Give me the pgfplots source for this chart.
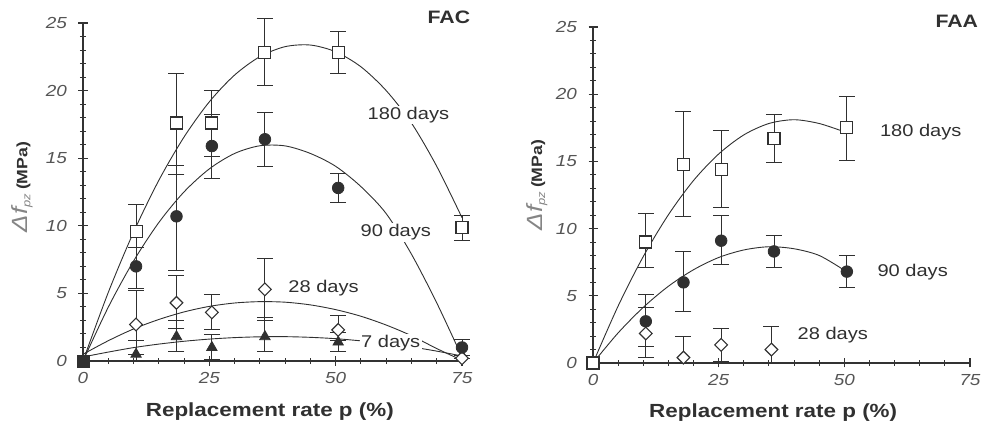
\documentclass[border=0pt]{standalone}
\usepackage{fontspec}
\setmainfont{Liberation Sans}[FakeStretch=1.18]
\usepackage{pgfplots}
\usepackage{pgfplotstable}
\pgfplotsset{compat=1.18}

\definecolor{ink}{HTML}{303030}
\definecolor{axisgray}{HTML}{333333}
\definecolor{tickgray}{HTML}{555555}
\definecolor{lightink}{HTML}{858585}

% ---------- FAC: measured gains with upper/lower error extents ----------
\pgfplotstableread{
x    y    ep   em
10.5 9.6  2.0  1.2
18.5 17.6 3.7  3.8
25.5 17.6 2.4  2.5
36   22.8 2.5  2.4
50.5 22.8 1.6  1.5
75   9.9  0.9  1.0
}\facA
\pgfplotstableread{
x    y    ep   em
10.5 7.0  1.4  1.6
18.5 10.7 3.8  4.0
25.5 15.9 2.3  2.4
36   16.4 2.0  2.0
50.5 12.8 1.1  1.1
75   1.0  0.6  0.6
}\facB
\pgfplotstableread{
x    y    ep   em
10.5 2.7  2.5  2.2
18.5 4.3  2.0  1.9
25.5 3.6  1.3  1.3
36   5.3  2.3  2.3
50.5 2.3  1.1  0.8
75   0.2  0    0
}\facC
\pgfplotstableread{
x    y    ep   em
10.5 0.5  1.0  0.5
18.5 1.8  1.2  1.1
25.5 1.0  1.0  0.9
36   1.8  1.4  1.1
50.5 1.4  0.7  0.7
75   0.4  0    0
}\facD

% ---------- FAA ----------
\pgfplotstableread{
x    y    ep   em
10.5 9.0  2.1  1.9
18   14.8 3.95 3.9
25.5 14.4 2.9  2.8
36   16.7 1.8  1.8
50.5 17.5 2.3  2.4
}\faaA
\pgfplotstableread{
x    y    ep   em
10.5 3.1  2.0  1.9
18   6.0  2.3  2.2
25.5 9.1  1.9  1.8
36   8.3  1.2  1.2
50.5 6.8  1.2  1.2
}\faaB
\pgfplotstableread{
x    y    ep   em
10.5 2.2  1.9  1.8
18   0.4  1.55 0.4
25.5 1.35 1.25 1.25
35.5 1.0  1.75 1.0
}\faaC

\tikzset{
  lab/.style={fill=white, inner sep=1.5pt, text=ink,
    font=\fontsize{17}{17}\selectfont},
  tag/.style={text=ink, font=\fontsize{18}{18}\selectfont\bfseries, anchor=east},
}

\pgfplotsset{
  panel/.style={
    scale only axis, width=379pt, height=338pt,
    xmin=0, xmax=75, ymin=0, ymax=25,
    axis lines=left,
    axis line style={-, draw=axisgray, line width=1.1pt},
    xtick={0,25,50,75}, ytick={0,5,...,25},
    % intermediate (unlabelled) ticks
    extra x ticks={5,10,15,20,30,35,40,45,55,60,65,70},
    extra y ticks={1,2,3,4,6,7,8,9,11,12,13,14,16,17,18,19,21,22,23,24},
    extra x tick labels={}, extra y tick labels={},
    extra tick style={major tick length=6pt,
      tick style={draw=axisgray, line width=1pt}},
    tick align=center, major tick length=9pt,
    tick style={draw=axisgray, line width=1.1pt},
    clip=false,
    /pgf/number format/assume math mode=true,
    tick label style={font=\fontsize{16}{16}\selectfont\itshape, text=tickgray},
    xticklabel style={yshift=-3pt},
    yticklabel style={xshift=-8pt},
    xlabel={\fontsize{19}{19}\selectfont\bfseries Replacement rate p (\%)},
    xlabel style={text=ink},
    ylabel={\textcolor{lightink}{\fontsize{22}{22}\selectfont\itshape Δf\textsubscript{\fontsize{11}{11}\selectfont pz}}\
      \textcolor{ink}{\fontsize{15}{15}\selectfont\bfseries (MPa)}},
  },
  curve/.style={draw=ink, line width=0.9pt, smooth, no marks},
  bars/.style={
    error bars/.cd, y dir=both, y explicit,
    error bar style={draw=ink, line width=0.9pt},
    error mark options={rotate=90, mark size=8pt, draw=ink, line width=0.9pt},
  },
  sq/.style={only marks, mark=square*, mark size=6pt,
    mark options={fill=white, draw=ink, line width=1.1pt}},
  ci/.style={only marks, mark=*, mark size=5.8pt,
    mark options={fill=ink, draw=ink, line width=0.8pt}},
  di/.style={only marks, mark=square*, mark size=4.5pt,
    mark options={fill=white, draw=ink, line width=1.1pt, rotate=45}},
  tr/.style={only marks, mark=triangle*, mark size=6pt,
    mark options={fill=ink, draw=ink, line width=0.8pt}},
}

\begin{document}
\begin{tikzpicture}
\path[use as bounding box] (0,0) rectangle (983pt,423pt);

% ================= FAC =================
\begin{axis}[panel, at={(83pt,62pt)}, anchor=south west,
  xlabel style={at={(axis description cs:0.493,0)}, anchor=center, yshift=-51pt},
  ylabel style={at={(axis description cs:-0.161,0.515)}, anchor=center},
]
% fitted trends
\addplot[curve] coordinates {(0,0) (5,5.07) (10,9.52) (15,13.36) (20,16.57)
  (25,19.17) (30,21.15) (35,22.51) (40,23.25) (45,23.37) (50,22.87)
  (55,21.76) (60,20.0) (65,17.6) (70,14.4) (75,10.6)};
\addplot[curve] coordinates {(0,0) (5,3.98) (10,7.39) (15,10.24) (20,12.51)
  (25,14.21) (30,15.35) (35,15.92) (40,15.91) (45,15.35) (50,14.4)
  (55,12.9) (60,10.9) (65,7.9) (70,4.3) (75,0.3)};
\addplot[curve] coordinates {(0,0.5) (5,1.50) (10,2.37) (15,3.07) (20,3.63)
  (25,4.04) (30,4.29) (35,4.39) (40,4.35) (45,4.15) (50,3.80) (55,3.31)
  (60,2.66) (65,1.87) (70,0.92) (75,0.05)};
\addplot[curve] coordinates {(0,0.3) (5,0.66) (10,0.99) (15,1.25) (20,1.46)
  (25,1.62) (30,1.73) (35,1.79) (40,1.80) (45,1.75) (50,1.65) (55,1.49)
  (60,1.29) (65,1.04) (70,0.73) (75,0.37)};
% measurements
\addplot[tr, bars] table[x=x, y=y, y error plus=ep, y error minus=em] {\facD};
\addplot[di, bars] table[x=x, y=y, y error plus=ep, y error minus=em] {\facC};
\addplot[ci, bars] table[x=x, y=y, y error plus=ep, y error minus=em] {\facB};
\addplot[sq, bars] table[x=x, y=y, y error plus=ep, y error minus=em] {\facA};
\addplot[only marks, mark=square*, mark size=6pt,
  mark options={fill=ink, draw=ink}] coordinates {(0,0)};
% series labels
\node[lab] at (axis cs:64.4,18.2) {180 days};
\node[lab] at (axis cs:61.9,9.5) {90 days};
\node[lab] at (axis cs:47.6,5.4) {28 days};
\node[lab] at (axis cs:60.9,1.33) {7 days};
\node[tag] at (axis cs:77.3,25.4) {FAC};
\end{axis}

% ================= FAA =================
\begin{axis}[panel, at={(593pt,60pt)}, anchor=south west,
  width=377pt, height=336pt,
  xlabel style={at={(axis description cs:0.478,0)}, anchor=center, yshift=-50pt},
  ylabel style={at={(axis description cs:-0.149,0.53)}, anchor=center},
]
\addplot[curve] coordinates {(0,0) (5,4.24) (10,7.92) (15,11.03) (20,13.58)
  (25,15.55) (30,16.97) (35,17.82) (40,18.1) (45,17.82) (50,17.2)};
\addplot[curve] coordinates {(0,0) (5,2.24) (10,4.14) (15,5.71) (20,6.94)
  (25,7.85) (30,8.41) (35,8.65) (40,8.5) (45,8.0) (50,6.9)};
\addplot[di, bars] table[x=x, y=y, y error plus=ep, y error minus=em] {\faaC};
\addplot[ci, bars] table[x=x, y=y, y error plus=ep, y error minus=em] {\faaB};
\addplot[sq, bars] table[x=x, y=y, y error plus=ep, y error minus=em] {\faaA};
\addplot[sq] coordinates {(0,0)};
\node[lab] at (axis cs:65.2,17.2) {180 days};
\node[lab] at (axis cs:63.6,6.8) {90 days};
\node[lab] at (axis cs:47.7,2.1) {28 days};
\node[tag] at (axis cs:77.3,25.4) {FAA};
\end{axis}
\end{tikzpicture}
\end{document}
